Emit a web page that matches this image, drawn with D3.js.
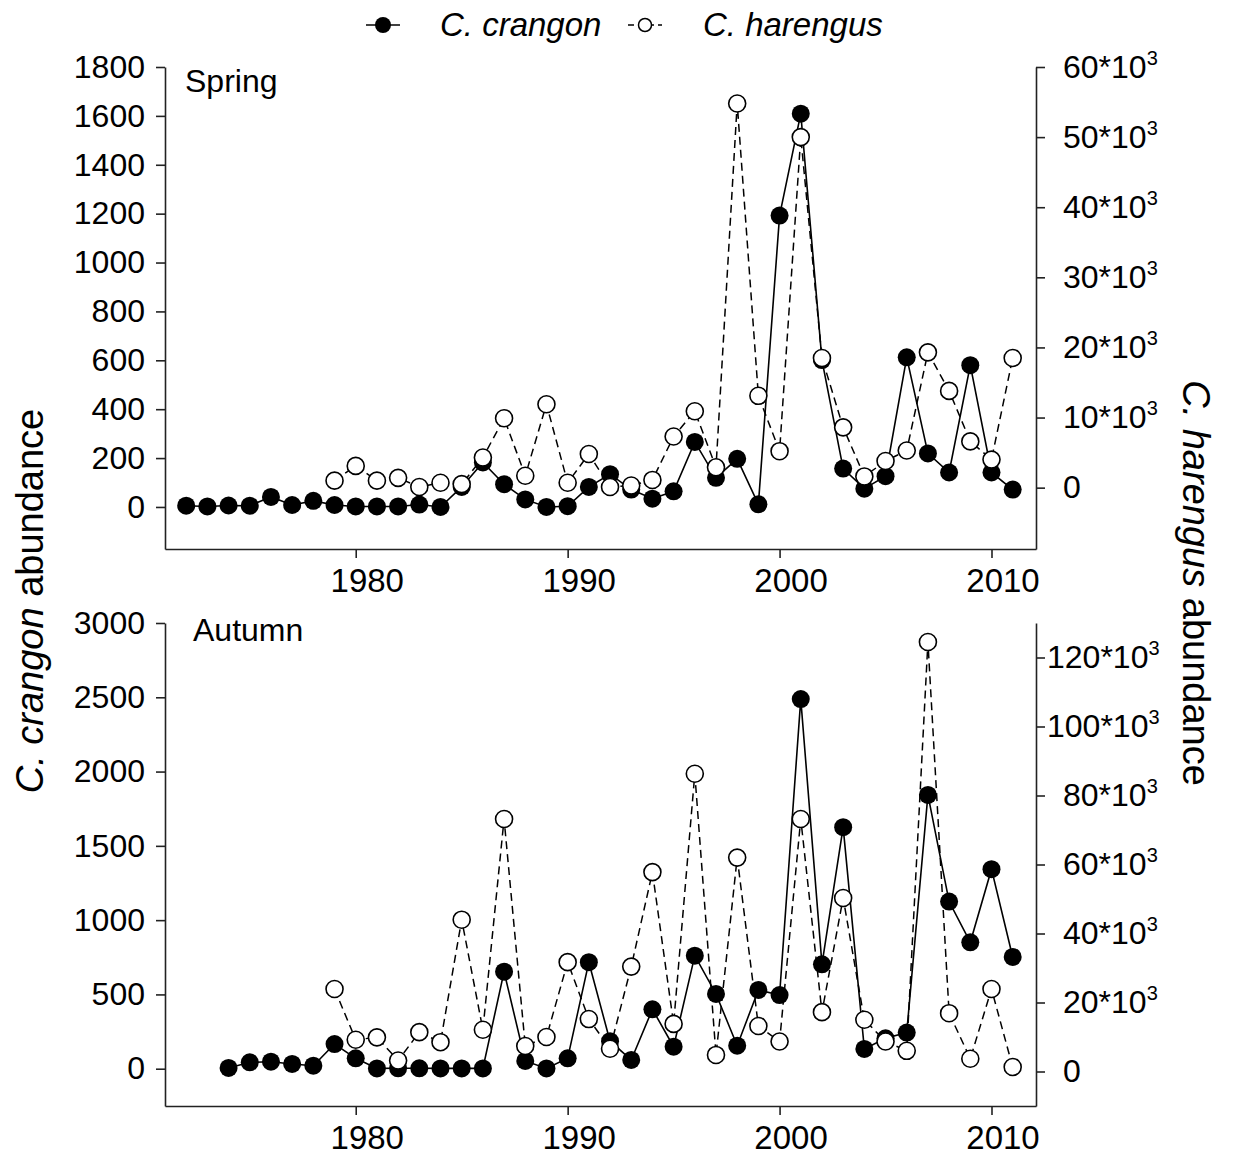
<!DOCTYPE html>
<html>
<head>
<meta charset="utf-8">
<script src="https://cdn.jsdelivr.net/npm/d3@7"></script>
<style>
    body { margin: 0; background: #fff; }
    text { font-family: "Liberation Sans", Arial, sans-serif; fill: #000; }
    .axis path, .axis line { stroke: #222; stroke-width: 1.6; }
    .axis text { font-size: 32px; fill: #000; }
</style>
</head>
<body>
<script>
// years
var springCrangonYears = d3.range(1972, 2012);
var autumnCrangonYears = d3.range(1974, 2012);
var harengusYears = d3.range(1979, 2012);

// C. crangon abundance (left axis)
var springCrangon = [5, 2, 6, 5, 41, 8, 25, 8, 2, 2, 2, 10, 0, 82, 182, 93, 31, 0, 3, 82,
    134, 71, 34, 64, 266, 119, 197, 11, 1192, 1609, 601, 157, 75, 126, 612, 219, 141, 580, 141, 71];
var autumnCrangon = [5, 43, 47, 32, 20, 166, 70, 2, 3, 3, 2, 2, 2, 653, 52, 2, 70, 717, 185, 59,
    400, 148, 761, 503, 155, 530, 496, 2488, 703, 1626, 133, 205, 243, 1843, 1125, 851, 1343, 752];

// C. harengus abundance (right axis)
var springHarengus = [1000, 3100, 1000, 1400, 100, 700, 500, 4300, 9900, 1700, 11900, 700, 4800,
    100, 300, 1100, 7300, 10900, 2900, 54800, 13100, 5200, 50000, 18500, 8600, 1600, 3800, 5300,
    19300, 13800, 6600, 4000, 18500];
var autumnHarengus = [23900, 9200, 9900, 3200, 11400, 8500, 44000, 12100, 73200, 7400, 10000,
    31700, 15200, 6600, 30400, 57800, 13800, 86300, 4800, 62000, 13200, 8700, 73200, 17200, 50300,
    15000, 8700, 6000, 124500, 16900, 3700, 23900, 1300];

// tick values
var yearTicks = [1980, 1990, 2000, 2010];
var springLeftTicks = [0, 200, 400, 600, 800, 1000, 1200, 1400, 1600, 1800];
var springRightTicks = [0, 10000, 20000, 30000, 40000, 50000, 60000];
var autumnLeftTicks = [0, 500, 1000, 1500, 2000, 2500, 3000];
var autumnRightTicks = [0, 20000, 40000, 60000, 80000, 100000, 120000];

window.onload = function () {
    var w = 1234,
        h = 1157;

    var svg = d3.select('body')
        .append('svg')
        .attr('width', w)
        .attr('height', h);

    var x = d3.scaleLinear()
        .domain([1971, 2012.1])
        .range([165, 1036]);

    function zip(years, values) {
        return years.map(function (yr, i) {
            return { year: yr, value: values[i] };
        });
    }

    // draw one panel
    function panel(opts) {
        var yL = d3.scaleLinear().domain(opts.leftDomain).range([opts.bottom, opts.top]);
        var yR = d3.scaleLinear().domain(opts.rightDomain).range([opts.bottom, opts.top]);

        var g = svg.append('g').attr('class', 'panel');

        // x axis
        g.append('g')
            .attr('class', 'axis')
            .attr('transform', 'translate(0,' + opts.bottom + ')')
            .call(d3.axisBottom(x).tickValues(yearTicks).tickFormat(d3.format('d'))
                .tickSize(9).tickSizeOuter(0).tickPadding(11))
            .selectAll('text')
            .attr('dx', 11)
            .style('font-size', '33px');

        // left axis
        g.append('g')
            .attr('class', 'axis')
            .attr('transform', 'translate(165,0)')
            .call(d3.axisLeft(yL).tickValues(opts.leftTicks).tickFormat(d3.format('d'))
                .tickSize(9).tickSizeOuter(0).tickPadding(11));

        // right axis, labels like 20*10^3
        var right = g.append('g')
            .attr('class', 'axis')
            .attr('transform', 'translate(1036,0)')
            .call(d3.axisRight(yR).tickValues(opts.rightTicks)
                .tickSize(9).tickSizeOuter(0).tickPadding(18));

        right.selectAll('.tick text').each(function (d) {
            var t = d3.select(this).text('');
            if (d === 0) {
                t.text('0');
                return;
            }
            if (d >= 100000) t.attr('dx', -16);
            t.append('tspan').text((d / 1000) + '*10');
            t.append('tspan')
                .attr('dy', -13)
                .style('font-size', '20px')
                .text('3');
        });

        // season label
        g.append('text')
            .attr('x', opts.labelX)
            .attr('y', opts.labelY)
            .style('font-size', '32px')
            .text(opts.label);

        var crangonLine = d3.line()
            .x(function (d) { return x(d.year); })
            .y(function (d) { return yL(d.value); });

        var harengusLine = d3.line()
            .x(function (d) { return x(d.year); })
            .y(function (d) { return yR(d.value); });

        var crangon = zip(opts.crangonYears, opts.crangon);
        var harengus = zip(harengusYears, opts.harengus);

        g.append('path')
            .datum(crangon)
            .attr('d', crangonLine)
            .style('fill', 'none')
            .style('stroke', '#000')
            .style('stroke-width', 1.6);

        g.selectAll('.crangon')
            .data(crangon)
            .enter()
            .append('circle')
            .attr('class', 'crangon')
            .attr('cx', function (d) { return x(d.year); })
            .attr('cy', function (d) { return yL(d.value); })
            .attr('r', 9)
            .style('fill', '#000');

        g.append('path')
            .datum(harengus)
            .attr('d', harengusLine)
            .style('fill', 'none')
            .style('stroke', '#000')
            .style('stroke-width', 1.5)
            .style('stroke-dasharray', '8,5');

        g.selectAll('.harengus')
            .data(harengus)
            .enter()
            .append('circle')
            .attr('class', 'harengus')
            .attr('cx', function (d) { return x(d.year); })
            .attr('cy', function (d) { return yR(d.value); })
            .attr('r', 8.5)
            .style('fill', '#fff')
            .style('stroke', '#000')
            .style('stroke-width', 1.6);
    }

    panel({
        top: 67, bottom: 549,
        leftDomain: [-172, 1800], rightDomain: [-8750, 60000],
        leftTicks: springLeftTicks, rightTicks: springRightTicks,
        crangonYears: springCrangonYears, crangon: springCrangon,
        harengus: springHarengus,
        label: 'Spring', labelX: 185, labelY: 92
    });

    panel({
        top: 623, bottom: 1106,
        leftDomain: [-251, 3000], rightDomain: [-10000, 130000],
        leftTicks: autumnLeftTicks, rightTicks: autumnRightTicks,
        crangonYears: autumnCrangonYears, crangon: autumnCrangon,
        harengus: autumnHarengus,
        label: 'Autumn', labelX: 193, labelY: 641
    });

    // axis titles
    var leftTitle = svg.append('text')
        .attr('transform', 'translate(43,601) rotate(-90)')
        .attr('text-anchor', 'middle')
        .style('font-size', '38px');
    leftTitle.append('tspan').style('font-style', 'italic').text('C. crangon');
    leftTitle.append('tspan').text(' abundance');

    var rightTitle = svg.append('text')
        .attr('transform', 'translate(1183,583) rotate(90)')
        .attr('text-anchor', 'middle')
        .style('font-size', '38px');
    rightTitle.append('tspan').style('font-style', 'italic').text('C. harengus');
    rightTitle.append('tspan').text(' abundance');

    // legend
    var legend = svg.append('g').attr('class', 'legend');

    legend.append('line')
        .attr('x1', 366).attr('x2', 400)
        .attr('y1', 25).attr('y2', 25)
        .style('stroke', '#000')
        .style('stroke-width', 1.6);
    legend.append('circle')
        .attr('cx', 383).attr('cy', 25).attr('r', 8)
        .style('fill', '#000');
    legend.append('text')
        .attr('x', 440).attr('y', 36)
        .style('font-size', '33px')
        .style('font-style', 'italic')
        .text('C. crangon');

    legend.append('line')
        .attr('x1', 628).attr('x2', 662)
        .attr('y1', 25).attr('y2', 25)
        .style('stroke', '#000')
        .style('stroke-width', 1.5)
        .style('stroke-dasharray', '6,4');
    legend.append('circle')
        .attr('cx', 645).attr('cy', 25).attr('r', 6.5)
        .style('fill', '#fff')
        .style('stroke', '#000')
        .style('stroke-width', 1.5);
    legend.append('text')
        .attr('x', 703).attr('y', 36)
        .style('font-size', '33px')
        .style('font-style', 'italic')
        .text('C. harengus');
};
</script>
</body>
</html>
